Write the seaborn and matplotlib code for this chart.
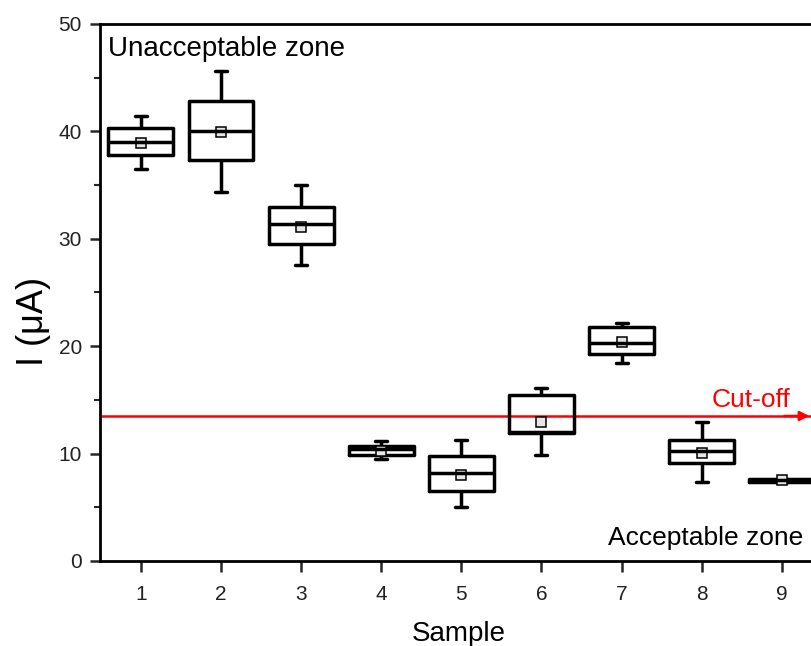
import numpy as np
import pandas as pd
import matplotlib
matplotlib.use("Agg")
import matplotlib.pyplot as plt
import seaborn as sns

# values (I in uA)
samples = ["1", "2", "3", "4", "5", "6", "7", "8", "9"]
whisker_low = [36.5, 34.4, 27.6, 9.5, 5.0, 9.9, 18.4, 7.4, 7.35]
q1 = [37.8, 37.3, 29.5, 9.9, 6.5, 11.9, 19.3, 9.1, 7.35]
median = [39.0, 40.0, 31.4, 10.4, 8.2, 12.0, 20.3, 10.2, 7.5]
q3 = [40.3, 42.8, 33.0, 10.7, 9.8, 15.5, 21.8, 11.3, 7.65]
whisker_high = [41.4, 45.6, 35.0, 11.2, 11.3, 16.1, 22.2, 12.9, 7.65]
means = [38.9, 39.9, 31.1, 10.2, 8.0, 12.9, 20.4, 10.1, 7.5]
cutoff = 13.5


def build_table():
    rows = []
    for i, s in enumerate(samples):
        for v in (whisker_low[i], q1[i], median[i], q3[i], whisker_high[i]):
            rows.append({"sample": s, "current": v})
    return pd.DataFrame(rows)


def make_plot():
    sns.set_style("ticks")
    plt.rcParams["font.family"] = ["Liberation Sans", "DejaVu Sans"]
    plt.rcParams["text.color"] = "black"
    plt.rcParams["axes.labelcolor"] = "black"

    df = build_table()
    mean_df = pd.DataFrame({"sample": samples, "mean": means})

    fig = plt.figure(figsize=(8.11, 6.46), dpi=100)
    ax = fig.add_axes([0.1233, 0.1316, 0.890, 0.8313])

    # -------------------------------
    # boxes (whiskers = min / max)
    # -------------------------------
    sns.boxplot(data=df, x="sample", y="current", order=samples, ax=ax,
                whis=(0, 100), width=0.81, fill=False, color="black",
                linecolor="black", linewidth=2.5, capwidths=0.15)

    # mean markers
    sns.pointplot(data=mean_df, x="sample", y="mean", order=samples, ax=ax,
                  linestyle="none", marker="s", markersize=6.5, color="black",
                  markerfacecolor="#e6e6e6", markeredgewidth=1.1, errorbar=None)

    # -------------------------------
    # cut-off line
    # -------------------------------
    ax.axhline(cutoff, color="red", lw=1.8, zorder=1)
    ax.annotate("", xy=(8.38, cutoff), xytext=(8.0, cutoff),
                arrowprops=dict(arrowstyle="-|>", color="red", lw=1.8,
                                mutation_scale=14))
    ax.text(7.12, cutoff + 0.35, "Cut-off", color="red", fontsize=19,
            ha="left", va="bottom")

    ax.text(0.011, 0.977, "Unacceptable zone", transform=ax.transAxes,
            fontsize=20, ha="left", va="top")
    ax.text(0.704, 0.02, "Acceptable zone", transform=ax.transAxes,
            fontsize=19, ha="left", va="bottom")

    # -------------------------------
    # axes
    # -------------------------------
    ax.set_xlim(-0.51, 8.5)
    ax.set_ylim(0, 50)
    ax.set_yticks(np.arange(0, 51, 10))
    ax.set_yticks(np.arange(5, 50, 10), minor=True)
    ax.tick_params(axis="y", which="major", length=7, width=1.8,
                   labelsize=15, pad=6, direction="out", labelcolor="#222222")
    ax.tick_params(axis="y", which="minor", length=4, width=1.5,
                   direction="out")
    ax.tick_params(axis="x", length=8, width=1.8, labelsize=15, pad=9,
                   direction="out", labelcolor="#222222")
    for side in ["left", "bottom", "top"]:
        ax.spines[side].set_visible(True)
        ax.spines[side].set_linewidth(2)
        ax.spines[side].set_color("black")
    ax.spines["right"].set_visible(False)

    ax.set_xlabel("Sample", fontsize=20)
    ax.set_ylabel("I (\u03bcA)", fontsize=26)
    ax.xaxis.set_label_coords(0.497, -0.112)
    ax.yaxis.set_label_coords(-0.068, 0.447)

    fig.savefig("out.png", dpi=100)


if __name__ == "__main__":
    make_plot()
